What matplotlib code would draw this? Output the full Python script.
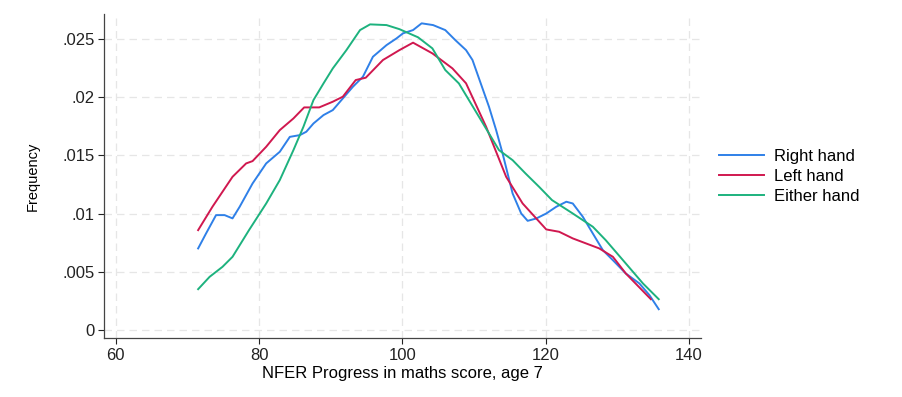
import numpy as np
import matplotlib
matplotlib.use('Agg')
import matplotlib.pyplot as plt

matplotlib.rcParams['font.sans-serif'] = "Liberation Sans"
matplotlib.rcParams['font.family'] = "sans-serif"

# density curves: (score, frequency)
right_x = [71.5, 72.6, 74.0, 75.2, 76.3, 77.3, 79.1, 81.0, 82.9, 84.3, 85.7, 86.6, 87.6, 89.0,
           90.3, 91.7, 93.1, 94.5, 95.9, 97.8, 99.2, 100.1, 101.5, 102.7, 104.3, 106.0, 107.4,
           108.9, 109.8, 111.2, 112.1, 113.1, 114.0, 115.4, 116.6, 117.5, 118.7, 120.1, 121.5,
           122.9, 123.8, 125.2, 126.6, 128.0, 129.4, 131.2, 133.1, 134.5, 135.8]
right_y = [.00702, .0083, .00988, .00988, .0096, .0106, .0126, .01432, .01532, .0166, .01675,
           .01704, .01775, .01847, .0189, .0199, .0209, .02176, .02348, .02448, .02506, .02549,
           .02577, .02635, .0262, .02577, .02491, .02405, .0232, .02076, .01919, .01718, .01518,
           .01174, .01002, .00939, .00959, .01002, .0106, .01103, .01088, .00974, .0083, .00687,
           .00601, .00487, .00401, .00301, .0018]

left_x = [71.5, 73.5, 76.3, 78.2, 79.1, 81.0, 82.9, 84.8, 86.3, 88.4, 90.3, 91.7, 93.5, 94.9,
          97.3, 99.6, 101.5, 104.2, 107.0, 108.9, 111.7, 114.5, 116.8, 120.1, 121.9, 123.8,
          127.5, 129.4, 131.2, 134.7]
left_y = [.00859, .0106, .01317, .01432, .01452, .01575, .01718, .01818, .01913, .01913, .01962,
          .02005, .02148, .02168, .0232, .02405, .02469, .02377, .02248, .0212, .01747, .01317,
          .01088, .00865, .00845, .00788, .00702, .0063, .00487, .00266]

either_x = [71.5, 73.1, 74.9, 76.3, 78.6, 81.0, 82.9, 84.8, 86.2, 87.6, 89.0, 90.3, 92.2, 94.1,
            95.5, 97.8, 99.6, 102.2, 104.2, 106.0, 107.9, 110.7, 113.5, 115.4, 117.2, 119.1,
            120.9, 123.8, 126.6, 128.4, 131.2, 133.6, 135.8]
either_y = [.00352, .00458, .00544, .0063, .00859, .01088, .01289, .01546, .01747, .01976, .02119,
            .02248, .02405, .02577, .02626, .0262, .02585, .02515, .0242, .02234, .02119, .01833,
            .01546, .0146, .01346, .01231, .01117, .01002, .00888, .00773, .00573, .00401, .00266]

x_ticks = [60, 80, 100, 120, 140]
y_ticks = [0, .005, .01, .015, .02, .025]
y_tick_labels = ['0', '.005', '.01', '.015', '.02', '.025']

fig = plt.figure(figsize=(9.03, 3.97), dpi=100)
ax = fig.add_axes([0.1155, 0.1478, 0.6608, 0.8169])

ax.plot(right_x, right_y, color='#2f80e8', lw=1.4, label='Right hand')
ax.plot(left_x, left_y, color='#d0184f', lw=1.4, label='Left hand')
ax.plot(either_x, either_y, color='#1db27e', lw=1.4, label='Either hand')

ax.set_xlim(58.4, 141.7)
ax.set_ylim(-0.0007, 0.02715)
ax.set_xticks(x_ticks)
ax.set_yticks(y_ticks)
ax.set_yticklabels(y_tick_labels)
ax.tick_params(direction='out', length=4, width=0.8, labelsize=12, colors='#222222', pad=3)
ax.grid(True, color='#e6e6e6', linestyle=(0, (6, 4)), linewidth=0.9)
ax.set_axisbelow(True)
for s in ['top', 'right']:
    ax.spines[s].set_visible(False)
for s in ['left', 'bottom']:
    ax.spines[s].set_color('#444444')
    ax.spines[s].set_linewidth(0.9)

ax.set_xlabel('NFER Progress in maths score, age 7', fontsize=12, labelpad=2)
ax.set_ylabel('Frequency', fontsize=10.5, labelpad=16)

ax.legend(frameon=False, loc='center left', bbox_to_anchor=(1.005, 0.50),
          fontsize=12, handlelength=2.7, handletextpad=0.6, labelspacing=0.3)

plt.savefig('out.png', dpi=100)
